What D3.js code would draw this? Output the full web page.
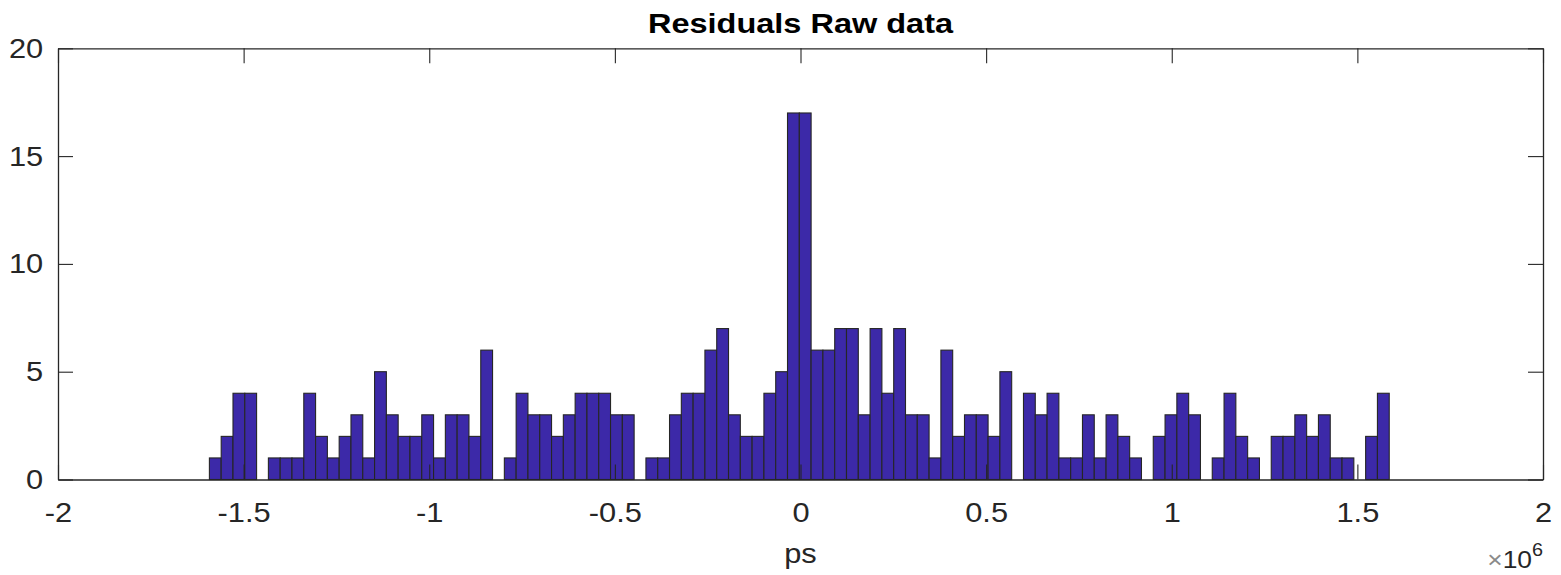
<!DOCTYPE html>
<html>
<head>
<meta charset="utf-8">
<script src="https://cdn.jsdelivr.net/npm/d3@7"></script>
<style>
  html, body { margin: 0; padding: 0; background: #fff; }
  svg { display: block; }
  text { font-family: "Liberation Sans", Arial, Helvetica, sans-serif; }
</style>
</head>
<body>
<svg id="chart" width="1561" height="575"></svg>
<script>
// Histogram counts of residuals, 100 equal-width bins
const counts = [
  1, 2, 4, 4, 0, 1, 1, 1, 4, 2,
  1, 2, 3, 1, 5, 3, 2, 2, 3, 1,
  3, 3, 2, 6, 0, 1, 4, 3, 3, 2,
  3, 4, 4, 4, 3, 3, 0, 1, 1, 3,
  4, 4, 6, 7, 3, 2, 2, 4, 5, 17,
  17, 6, 6, 7, 7, 3, 7, 4, 7, 3,
  3, 1, 6, 2, 3, 3, 2, 5, 0, 4,
  3, 4, 1, 1, 3, 1, 3, 2, 1, 0,
  2, 3, 4, 3, 0, 1, 4, 2, 1, 0,
  2, 2, 3, 2, 3, 1, 1, 0, 2, 4
];
const binStart = -1.5922e6;   // left edge of first bin (ps)
const binWidth = 31780;       // bin width (ps)

const xTicks = [-2e6, -1.5e6, -1e6, -0.5e6, 0, 0.5e6, 1e6, 1.5e6, 2e6];
const xTickLabels = ["-2", "-1.5", "-1", "-0.5", "0", "0.5", "1", "1.5", "2"];
const yTicks = [0, 5, 10, 15, 20];
const yTickLabels = ["0", "5", "10", "15", "20"];

const titleText = "Residuals Raw data";
const xLabelText = "ps";

const bins = counts.map((c, i) => ({
  x0: binStart + i * binWidth,
  x1: binStart + (i + 1) * binWidth,
  count: c
}));

const plotLeft = 58, plotRight = 1543, plotTop = 48.3, plotBottom = 479.5;
const axisColor = "#262626";
const fontSize = 28;
const stretch = 1.1;
const tickLen = 15;

const svg = d3.select("#chart");

const x = d3.scaleLinear().domain([-2e6, 2e6]).range([plotLeft, plotRight]);
const y = d3.scaleLinear().domain([0, 20]).range([plotBottom, plotTop]);

// Bars
svg.append("g")
  .selectAll("rect")
  .data(bins)
  .join("rect")
  .attr("x", d => x(d.x0))
  .attr("y", d => y(d.count))
  .attr("width", d => x(d.x1) - x(d.x0))
  .attr("height", d => y(0) - y(d.count))
  .attr("fill", "#3c29a8")
  .attr("stroke", "#262626")
  .attr("stroke-width", 1.1);

// Axes with inward ticks on all four sides
function styleAxis(g) {
  g.selectAll("path.domain").attr("stroke", axisColor).attr("stroke-width", 1.3);
  g.selectAll(".tick line").attr("stroke", axisColor).attr("stroke-width", 1.1);
  g.selectAll(".tick text")
    .attr("fill", axisColor)
    .style("font-size", fontSize + "px");
}

const xFmt = d => xTickLabels[xTicks.indexOf(d)];
const yFmt = d => yTickLabels[yTicks.indexOf(d)];

const gBottom = svg.append("g")
  .attr("transform", `translate(0,${plotBottom})`)
  .call(d3.axisBottom(x).tickValues(xTicks).tickFormat(xFmt)
    .tickSizeInner(-tickLen).tickSizeOuter(0).tickPadding(23))
  .call(styleAxis);
gBottom.selectAll(".tick text").attr("transform", `scale(${stretch},1)`);

svg.append("g")
  .attr("transform", `translate(0,${plotTop})`)
  .call(d3.axisTop(x).tickValues(xTicks).tickFormat("")
    .tickSizeInner(-tickLen).tickSizeOuter(0))
  .call(styleAxis);

const gLeft = svg.append("g")
  .attr("transform", `translate(${plotLeft},0)`)
  .call(d3.axisLeft(y).tickValues(yTicks).tickFormat(yFmt)
    .tickSizeInner(-tickLen).tickSizeOuter(0).tickPadding(13.5))
  .call(styleAxis);
gLeft.selectAll(".tick text").attr("transform", `scale(${stretch},1)`);

svg.append("g")
  .attr("transform", `translate(${plotRight},0)`)
  .call(d3.axisRight(y).tickValues(yTicks).tickFormat("")
    .tickSizeInner(-tickLen).tickSizeOuter(0))
  .call(styleAxis);

// Title
svg.append("text")
  .attr("transform", `translate(${(plotLeft + plotRight) / 2},33) scale(1.14,1)`)
  .attr("text-anchor", "middle")
  .attr("fill", "#000")
  .style("font-size", "28.5px")
  .style("font-weight", "bold")
  .text(titleText);

// X axis label
svg.append("text")
  .attr("transform", `translate(${x(0)},563) scale(${stretch},1)`)
  .attr("text-anchor", "middle")
  .attr("fill", axisColor)
  .style("font-size", fontSize + "px")
  .text(xLabelText);

// Exponent multiplier
const mult = svg.append("text")
  .attr("transform", `translate(${plotRight},568) scale(${stretch},1)`)
  .attr("text-anchor", "end")
  .attr("fill", axisColor)
  .style("font-size", "24px");
mult.append("tspan").attr("fill", "#8a8a8a").text("\u00d7");
mult.append("tspan").text("10");
mult.append("tspan").attr("dy", -12).style("font-size", "18px").text("6");
</script>
</body>
</html>
